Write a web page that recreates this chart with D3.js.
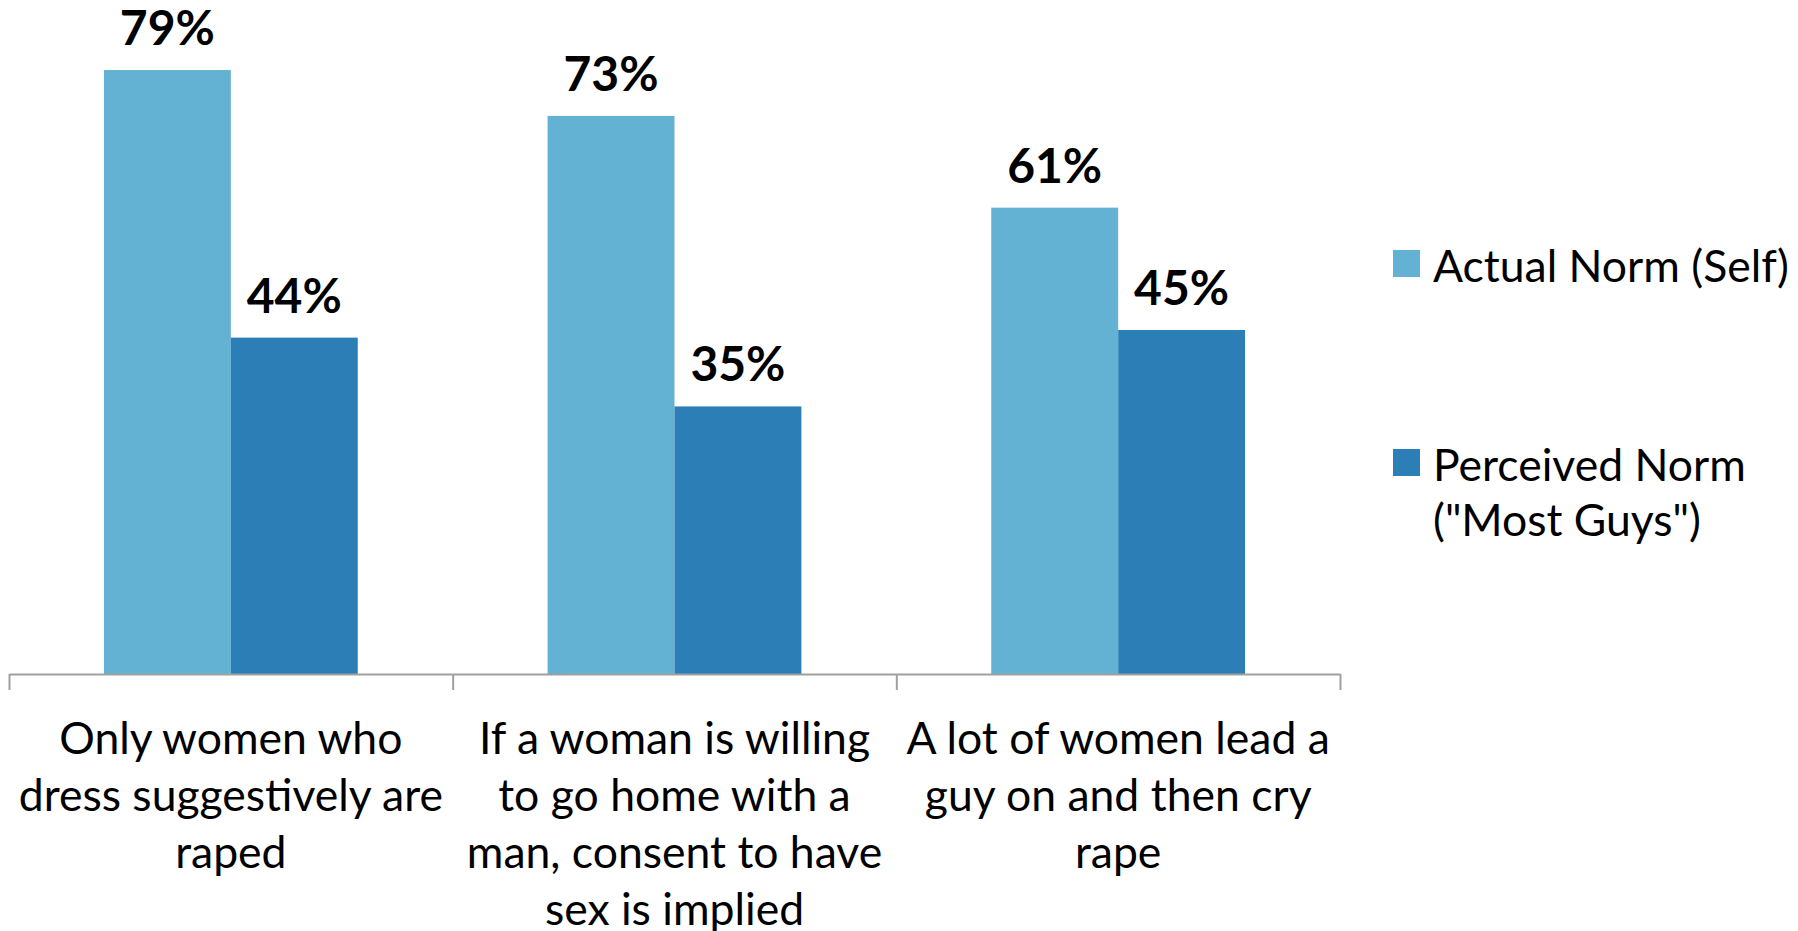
<!DOCTYPE html>
<html>
<head>
<meta charset="utf-8">
<script src="https://cdn.jsdelivr.net/npm/d3@7"></script>
<style>
  body { margin: 0; background: #fff; }
  text { font-family: Lato, "Open Sans", sans-serif; fill: #000; }
</style>
</head>
<body>
<script>
// chart values
var categories = ['cat1', 'cat2', 'cat3'];
var categoryLines = [
    ['Only women who', 'dress suggestively are', 'raped'],
    ['If a woman is willing', 'to go home with a', 'man, consent to have', 'sex is implied'],
    ['A lot of women lead a', 'guy on and then cry', 'rape']
];
var seriesNames = ['Actual Norm (Self)', 'Perceived Norm ("Most Guys")'];
var legendLines = [['Actual Norm (Self)'], ['Perceived Norm', '("Most Guys")']];
var actualValues = [79, 73, 61];
var perceivedValues = [44, 35, 45];
var colors = ['#64b2d3', '#2c7fb6'];

var w = 1798, h = 931;
var svg = d3.select('body').append('svg')
    .attr('width', w)
    .attr('height', h);

var baseY = 674;
var x0 = d3.scaleBand().domain(categories).range([9, 1340]);
var x1 = d3.scaleBand().domain(seriesNames).range([0, x0.bandwidth()]).paddingOuter(0.748);
var y = d3.scaleLinear().domain([0, 100]).range([baseY, baseY - 764.5]);

var rows = categories.map(function (c, i) {
    return [
        {cat: c, series: seriesNames[0], value: actualValues[i], color: colors[0]},
        {cat: c, series: seriesNames[1], value: perceivedValues[i], color: colors[1]}
    ];
});

var groups = svg.selectAll('.group')
    .data(rows)
    .enter()
    .append('g')
    .attr('class', 'group')
    .attr('transform', function (d) { return 'translate(' + x0(d[0].cat) + ',0)'; });

groups.selectAll('rect')
    .data(function (d) { return d; })
    .enter()
    .append('rect')
    .attr('x', function (d) { return x1(d.series); })
    .attr('width', x1.bandwidth())
    .attr('y', function (d) { return y(d.value); })
    .attr('height', function (d) { return baseY - y(d.value); })
    .attr('fill', function (d) { return d.color; });

groups.selectAll('.val')
    .data(function (d) { return d; })
    .enter()
    .append('text')
    .attr('class', 'val')
    .attr('x', function (d) { return x1(d.series) + x1.bandwidth() / 2; })
    .attr('y', function (d) { return y(d.value) - 25; })
    .attr('text-anchor', 'middle')
    .style('font-size', '48px')
    .style('font-weight', 'bold')
    .text(function (d) { return d.value + '%'; });

// axis with ticks at the category boundaries
var edges = d3.scaleLinear().domain([0, categories.length]).range(x0.range());
svg.append('g')
    .attr('transform', 'translate(0,' + baseY + ')')
    .call(d3.axisBottom(edges).ticks(categories.length).tickSize(16).tickSizeOuter(0).tickFormat(''))
    .call(function (g) {
        g.selectAll('path, line').attr('stroke', '#a0a0a0').attr('stroke-width', 2);
    });

// category labels
svg.selectAll('.cat')
    .data(categories)
    .enter()
    .append('text')
    .attr('class', 'cat')
    .attr('text-anchor', 'middle')
    .style('font-size', '44.5px')
    .attr('transform', function (d) { return 'translate(' + (x0(d) + x0.bandwidth() / 2) + ',0)'; })
    .selectAll('tspan')
    .data(function (d, i) { return categoryLines[i]; })
    .enter()
    .append('tspan')
    .attr('x', 0)
    .attr('y', function (d, i) { return 754 + i * 57; })
    .text(function (d) { return d; });

// legend
var legendY = [250, 449];
var legend = svg.selectAll('.legend')
    .data(seriesNames)
    .enter()
    .append('g')
    .attr('class', 'legend')
    .attr('transform', function (d, i) { return 'translate(1393,' + legendY[i] + ')'; });

legend.append('rect')
    .attr('width', 27)
    .attr('height', 27)
    .attr('fill', function (d, i) { return colors[i]; });

legend.append('text')
    .style('font-size', '44.5px')
    .selectAll('tspan')
    .data(function (d, i) { return legendLines[i]; })
    .enter()
    .append('tspan')
    .attr('x', 40)
    .attr('y', function (d, i) { return 32 + i * 55; })
    .text(function (d) { return d; });
</script>
</body>
</html>
